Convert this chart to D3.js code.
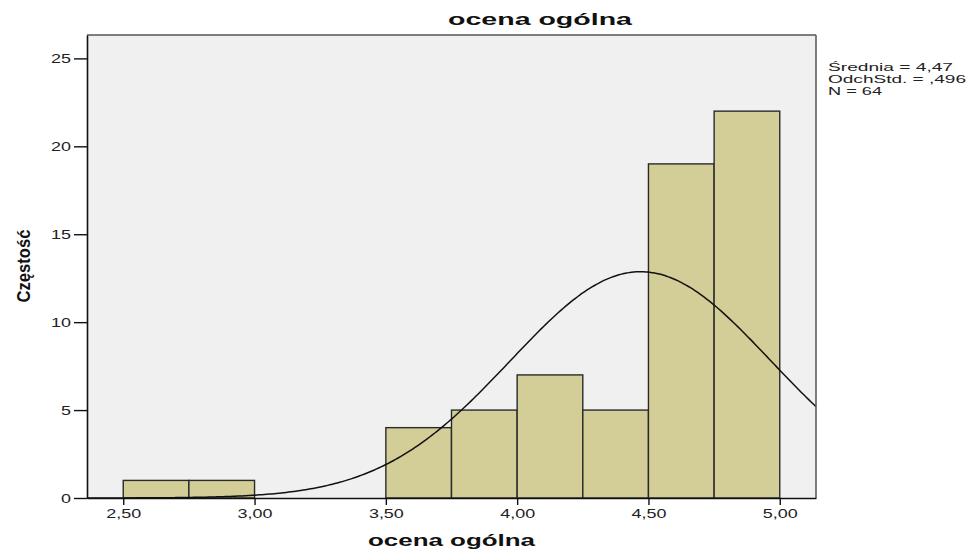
<!DOCTYPE html>
<html><head><meta charset="utf-8">
<script src="https://cdn.jsdelivr.net/npm/d3@7"></script>
<style>body{margin:0;background:#fff;} svg{display:block;font-family:Arial,"Liberation Sans",sans-serif;}</style>
</head><body>
<svg id="c" width="968" height="549"></svg>
<script>
const binStarts = [2.50, 2.75, 3.50, 3.75, 4.00, 4.25, 4.50, 4.75];
const binWidth = 0.25;
const counts = [1, 1, 4, 5, 7, 5, 19, 22];
const xTicks = [2.5, 3.0, 3.5, 4.0, 4.5, 5.0];
const yTicks = [0, 5, 10, 15, 20, 25];
const statMean = 4.47, statSD = 0.496, statN = 64;
const legendLines = ["Średnia = 4,47", "OdchStd. = ,496", "N = 64"];

const svg = d3.select("#c");
const L = 87, R = 816, T = 35, B = 498;
const x = d3.scaleLinear().domain([2.362, 5.138]).range([L, R]);
const y = d3.scaleLinear().domain([0, 26.33]).range([B, T]);
const loc = d3.formatLocale({decimal: ",", thousands: " ", grouping: [3], currency: ["", ""]});
const fx = loc.format(".2f");

svg.append("rect").attr("x", L).attr("y", T).attr("width", R - L).attr("height", B - T)
  .attr("fill", "#f0f0f0");

svg.append("g").selectAll("rect").data(counts).join("rect")
  .attr("x", (d, i) => x(binStarts[i]))
  .attr("width", (d, i) => x(binStarts[i] + binWidth) - x(binStarts[i]))
  .attr("y", d => y(d)).attr("height", d => y(0) - y(d))
  .attr("fill", "#d3ce97").attr("stroke", "#2a2a2a").attr("stroke-width", 1.4);

// normal curve fitted from the stated statistics
const dens = [];
const [x0, x1] = x.domain();
for (let k = 0; k <= 300; k++) {
  const v = x0 + (x1 - x0) * k / 300;
  const z = (v - statMean) / statSD;
  dens.push([v, statN * binWidth / (statSD * Math.sqrt(2 * Math.PI)) * Math.exp(-0.5 * z * z)]);
}
svg.append("path").datum(dens)
  .attr("d", d3.line().x(d => x(d[0])).y(d => y(d[1])).curve(d3.curveBasis))
  .attr("fill", "none").attr("stroke", "#111").attr("stroke-width", 1.5);

// frame
svg.append("line").attr("x1", L).attr("x2", R).attr("y1", T).attr("y2", T).attr("stroke", "#555").attr("stroke-width", 1.5);
svg.append("line").attr("x1", R).attr("x2", R).attr("y1", T).attr("y2", B).attr("stroke", "#555").attr("stroke-width", 1.5);

const yAxis = svg.append("g").attr("transform", `translate(${L},0)`)
  .call(d3.axisLeft(y).tickValues(yTicks).tickSize(13).tickPadding(3).tickSizeOuter(0));
const xAxis = svg.append("g").attr("transform", `translate(0,${B})`)
  .call(d3.axisBottom(x).tickValues(xTicks).tickFormat(fx).tickSize(7).tickPadding(4).tickSizeOuter(0));
[yAxis, xAxis].forEach(g => {
  g.select(".domain").attr("stroke", "#111").attr("stroke-width", 1.6);
  g.selectAll(".tick line").attr("stroke", "#111").attr("stroke-width", 1.4);
  g.selectAll(".tick text").attr("fill", "#222").style("font-size", "13px")
    .style("font-family", "Arial, 'Liberation Sans', sans-serif")
    .each(function() {
      const w = this.getComputedTextLength();
      d3.select(this).attr("textLength", w * 1.38).attr("lengthAdjust", "spacingAndGlyphs");
    });
});

function stretched(sel, width) {
  return sel.attr("textLength", width).attr("lengthAdjust", "spacingAndGlyphs");
}

stretched(svg.append("text").attr("x", 540).attr("y", 25).attr("text-anchor", "middle")
  .style("font-size", "17px").style("font-weight", "bold").attr("fill", "#111").text("ocena ogólna"), 184);
stretched(svg.append("text").attr("x", 451.5).attr("y", 546).attr("text-anchor", "middle")
  .style("font-size", "16px").style("font-weight", "bold").attr("fill", "#111").text("ocena ogólna"), 167);
svg.append("text").attr("transform", "translate(30,266) rotate(-90)").attr("text-anchor", "middle")
  .style("font-size", "19px").style("font-weight", "bold").attr("fill", "#111")
  .attr("textLength", 73).attr("lengthAdjust", "spacingAndGlyphs").text("Częstość");

const legendWidths = [125, 138, 54];
svg.append("g").selectAll("text").data(legendLines).join("text")
  .attr("x", 828).attr("y", (d, i) => 71 + i * 12)
  .style("font-size", "11.5px").attr("fill", "#222")
  .attr("textLength", (d, i) => legendWidths[i]).attr("lengthAdjust", "spacingAndGlyphs")
  .text(d => d);
</script>
</body></html>
